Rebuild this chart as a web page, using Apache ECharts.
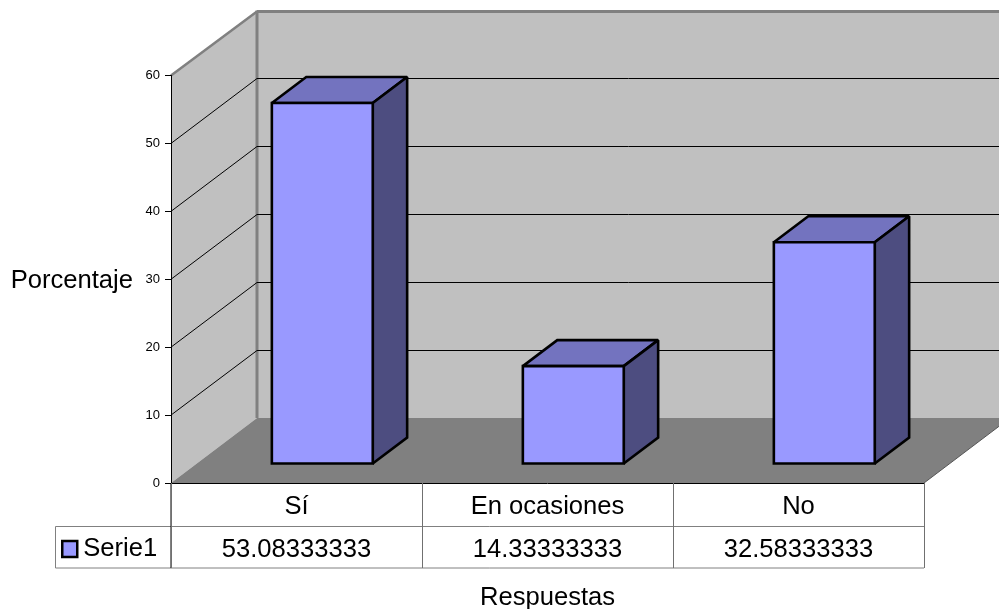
<!DOCTYPE html>
<html>
<head>
<meta charset="utf-8">
<style>html,body{margin:0;padding:0;background:#fff}#chart{width:999px;height:609px}</style>
<script src="https://cdn.jsdelivr.net/npm/echarts@6/dist/echarts.min.js"></script>
</head>
<body>
<div id="chart"></div>
<script>
const categories = ['Sí', 'En ocasiones', 'No'];
const values = [53.08333333, 14.33333333, 32.58333333];
const yTicks = [10, 20, 30, 40, 50];
const seriesName = 'Serie1';
const FONT = '"Liberation Sans", Arial, sans-serif';
const TEXT_SIZE = 25.6;

// Oblique projection of the plot's depth axis, in pixels.
const DEPTH_X = 86, DEPTH_Y = -65;
// Bars occupy this slice of the depth axis.
const BAR_FRONT = 0.3, BAR_DEPTH = 0.4;
// Bar width as a share of one category band.
const BAR_WIDTH = 0.402;

const poly = (points, fill) => ({
  type: 'polygon',
  shape: { points },
  style: { fill, stroke: '#000', lineWidth: 2.6, lineJoin: 'miter', miterLimit: 2 }
});
const line = (x1, y1, x2, y2, stroke, lineWidth) => ({
  type: 'line',
  shape: { x1, y1, x2, y2 },
  style: { stroke, lineWidth, lineCap: 'butt' }
});

function renderWalls(params) {
  const c = params.coordSys;
  const L = c.x, R = c.x + c.width, T = c.y, B = c.y + c.height;
  const dx = DEPTH_X, dy = DEPTH_Y;
  const fill = (points, color) => ({ type: 'polygon', shape: { points }, style: { fill: color } });
  return {
    type: 'group',
    children: [
      fill([[L, T], [L + dx, T + dy], [L + dx, B + dy], [L, B]], '#C0C0C0'),
      fill([[L + dx, T + dy], [R + dx, T + dy], [R + dx, B + dy], [L + dx, B + dy]], '#C0C0C0'),
      fill([[L, B], [R, B], [R + dx, B + dy], [L + dx, B + dy]], '#808080'),
      line(R, B, R + dx, B + dy, '#555', 1),
      line(L, T, L + dx, T + dy + 1, '#808080', 2.5),
      line(L + dx, T + dy + 1, R + dx, T + dy + 1, '#808080', 3),
      line(L + dx, T + dy, L + dx, B + dy, '#808080', 3)
    ]
  };
}

function renderGridline(params, api) {
  const c = params.coordSys;
  const y = api.coord([0, api.value(1)])[1];
  const backY = Math.floor(y + DEPTH_Y) + 0.5;
  return {
    type: 'group',
    children: [
      line(c.x, y, c.x + DEPTH_X, backY, '#000', 1),
      line(c.x + DEPTH_X, backY, c.x + c.width + DEPTH_X, backY, '#000', 1)
    ]
  };
}

function renderBar(params, api) {
  const base = api.coord([api.value(0), 0]);
  const top = api.coord([api.value(0), api.value(1)]);
  const half = api.size([1, 0])[0] * BAR_WIDTH / 2;
  const fx = DEPTH_X * BAR_FRONT, fy = DEPTH_Y * BAR_FRONT;
  const bx = DEPTH_X * BAR_DEPTH, by = DEPTH_Y * BAR_DEPTH;
  const l = base[0] + fx - half, r = base[0] + fx + half;
  const b = base[1] + fy, t = top[1] + fy;
  return {
    type: 'group',
    children: [
      poly([[l, t], [r, t], [r + bx, t + by], [l + bx, t + by]], '#7373BF'),
      poly([[r, t], [r + bx, t + by], [r + bx, b + by], [r, b]], '#4D4D80'),
      poly([[l, t], [r, t], [r, b], [l, b]], '#9999FF')
    ]
  };
}

// Data table frame beneath the plot; the inner dividers come from the axis ticks.
function renderTableFrame(params) {
  const c = params.coordSys;
  const L = c.x, R = c.x + c.width, B = c.y + c.height;
  const row1 = B + 43.5, row2 = B + 85;
  const keyLeft = 55.5;
  return {
    type: 'group',
    children: [
      line(keyLeft, row1, R, row1, '#808080', 1),
      line(keyLeft, row2, R, row2, '#808080', 1),
      line(keyLeft, row1, keyLeft, row2, '#808080', 1),
      line(L, B, L, row2, '#000', 1)
    ]
  };
}

const chart = echarts.init(document.getElementById('chart'), null, { renderer: 'canvas' });
chart.setOption({
  animation: false,
  backgroundColor: '#fff',
  legend: {
    show: true,
    data: [{ name: seriesName, icon: 'rect' }],
    left: 61,
    top: 536,
    padding: 0,
    itemWidth: 15,
    itemHeight: 16,
    selectedMode: false,
    itemStyle: { color: '#9999FF', borderColor: '#000', borderWidth: 2.5 },
    textStyle: { fontFamily: FONT, fontSize: TEXT_SIZE, color: '#000', padding: [25, 0, 0, 1] }
  },
  grid: { left: 171, top: 75.5, width: 753, height: 407.5, outerBoundsMode: 'none' },
  xAxis: [
    {
      type: 'category',
      data: categories,
      z: 10,
      name: 'Respuestas',
      nameLocation: 'middle',
      nameGap: 102,
      nameTextStyle: { fontFamily: FONT, fontSize: TEXT_SIZE, color: '#000' },
      axisLine: { show: true, lineStyle: { color: '#000', width: 1 } },
      axisTick: { show: true, length: 85, lineStyle: { color: '#707070', width: 1 } },
      axisLabel: { margin: 11, fontFamily: FONT, fontSize: TEXT_SIZE, color: '#000' }
    },
    {
      type: 'category',
      position: 'bottom',
      data: values.map(String),
      z: 10,
      axisLine: { show: false },
      axisTick: { show: false },
      axisLabel: { margin: 54, fontFamily: FONT, fontSize: TEXT_SIZE, color: '#000' }
    }
  ],
  yAxis: {
    type: 'value',
    min: 0,
    max: 60,
    interval: 10,
    z: 10,
    name: 'Porcentaje',
    nameLocation: 'middle',
    nameRotate: 0,
    nameGap: 38,
    nameTextStyle: { fontFamily: FONT, fontSize: TEXT_SIZE, color: '#000', verticalAlign: 'top', lineHeight: 4 },
    axisLine: { show: true, lineStyle: { color: '#000', width: 1 } },
    axisTick: { show: true, length: 6, lineStyle: { color: '#000', width: 1 } },
    axisLabel: { margin: 11, fontFamily: FONT, fontSize: 13, color: '#000' },
    splitLine: { show: false }
  },
  series: [
    { type: 'custom', silent: true, z: 1, clip: false, renderItem: renderWalls, data: [[0, 0]] },
    { type: 'custom', silent: true, z: 2, clip: false, renderItem: renderGridline, data: yTicks.map(v => [0, v]) },
    { type: 'custom', silent: true, z: 3, clip: false, renderItem: renderTableFrame, data: [[0, 0]] },
    {
      type: 'custom',
      name: seriesName,
      silent: true,
      z: 4,
      clip: false,
      renderItem: renderBar,
      encode: { x: 0, y: 1 },
      data: values.map((v, i) => [i, v])
    }
  ]
});
</script>
</body>
</html>
